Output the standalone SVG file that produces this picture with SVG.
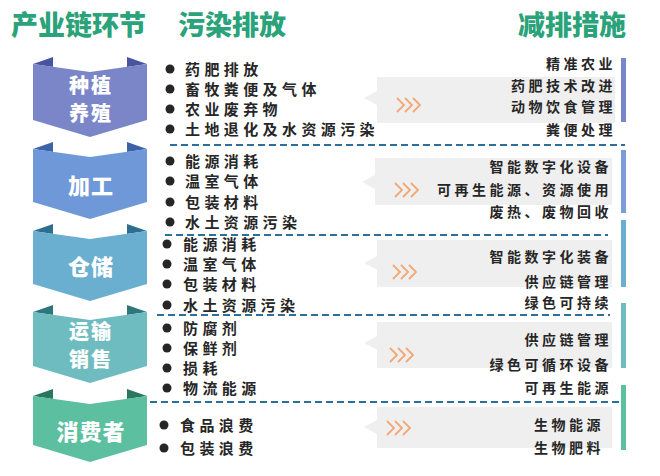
<svg xmlns="http://www.w3.org/2000/svg" width="660" height="476" viewBox="0 0 660 476">
<defs>
<style>
.hd{font-family:"Noto Sans CJK SC","Noto Sans",sans-serif;font-weight:900;font-size:27px;fill:#2aa27a}
.rb{font-family:"Noto Sans CJK SC","Noto Sans",sans-serif;font-weight:900;font-size:22px;fill:#ffffff;text-anchor:middle;letter-spacing:1px}
.rb2{font-family:"Noto Sans CJK SC","Noto Sans",sans-serif;font-weight:900;font-size:20px;fill:#ffffff;text-anchor:middle;letter-spacing:2px}
.bl{font-family:"Noto Sans CJK SC","Noto Sans",sans-serif;font-weight:700;font-size:15px;fill:#262626;letter-spacing:4.4px}
.rt{font-family:"Noto Sans CJK SC","Noto Sans",sans-serif;font-weight:700;font-size:14px;fill:#262626;letter-spacing:3.5px;text-anchor:end}
.dot{fill:#262626}
.call{fill:#efefef}
.chev{fill:none;stroke:#f3a776;stroke-width:1.8}
.dash{stroke:#2d6f9b;stroke-width:2;stroke-dasharray:7 4;fill:none}
</style>
<g id="chevs">
<path class="chev" d="M0,-7 L7,0 L0,7 M8,-7 L15,0 L8,7 M16,-7 L23,0 L16,7"/>
</g>
</defs>
<rect width="660" height="476" fill="#ffffff"/>

<g id="headers">
<text class="hd" x="11" y="35">产业链环节</text>
<text class="hd" x="178" y="35">污染排放</text>
<text class="hd" x="518" y="35">减排措施</text>
</g>

<g id="stage1">
<polygon points="33,64 53,57 53,67" fill="#4954a0"/>
<polygon points="147,64 127,57 127,67" fill="#4954a0"/>
<polygon points="33,64 90,72 147,64 147,120 90,137 33,120" fill="#7b86c9"/>
<text class="rb2" x="91" y="93">种植</text>
<text class="rb2" x="91" y="121">养殖</text>
</g>
<g id="stage2">
<polygon points="33,149 53,142 53,152" fill="#3c62a8"/>
<polygon points="147,149 127,142 127,152" fill="#3c62a8"/>
<polygon points="33,149 90,157 147,149 147,202 90,219 33,202" fill="#6f98d8"/>
<text class="rb" x="91" y="194">加工</text>
</g>
<g id="stage3">
<polygon points="33,231 53,224 53,234" fill="#2e6f8f"/>
<polygon points="147,231 127,224 127,234" fill="#2e6f8f"/>
<polygon points="33,231 90,239 147,231 147,284 90,301 33,284" fill="#6aaed0"/>
<text class="rb" x="91" y="275">仓储</text>
</g>
<g id="stage4">
<polygon points="33,312 53,305 53,315" fill="#2e767c"/>
<polygon points="147,312 127,305 127,315" fill="#2e767c"/>
<polygon points="33,312 90,320 147,312 147,366 90,383 33,366" fill="#6fbcc0"/>
<text class="rb2" x="91" y="339">运输</text>
<text class="rb2" x="91" y="367">销售</text>
</g>
<g id="stage5">
<polygon points="33,396 53,389 53,399" fill="#2a765e"/>
<polygon points="147,396 127,389 127,399" fill="#2a765e"/>
<polygon points="33,396 90,404 147,396 147,445 90,462 33,445" fill="#5cbfa0"/>
<text class="rb" x="91" y="440">消费者</text>
</g>

<g id="connectors">
<line class="dash" x1="170" y1="145" x2="625" y2="145"/>
<line class="dash" x1="165" y1="235" x2="608" y2="235"/>
<line class="dash" x1="157" y1="315" x2="610" y2="315"/>
<line class="dash" x1="150" y1="402" x2="624" y2="402"/>
</g>

<g id="emissions1">
<circle class="dot" cx="170" cy="69" r="4.5"/><text class="bl" x="185" y="75">药肥排放</text>
<circle class="dot" cx="170" cy="89" r="4.5"/><text class="bl" x="185" y="95">畜牧粪便及气体</text>
<circle class="dot" cx="170" cy="109" r="4.5"/><text class="bl" x="185" y="115">农业废弃物</text>
<circle class="dot" cx="170" cy="129" r="4.5"/><text class="bl" x="185" y="135">土地退化及水资源污染</text>
</g>
<g id="emissions2">
<circle class="dot" cx="170" cy="161" r="4.5"/><text class="bl" x="185" y="167">能源消耗</text>
<circle class="dot" cx="170" cy="181" r="4.5"/><text class="bl" x="185" y="187">温室气体</text>
<circle class="dot" cx="170" cy="202" r="4.5"/><text class="bl" x="185" y="208">包装材料</text>
<circle class="dot" cx="170" cy="222" r="4.5"/><text class="bl" x="185" y="228">水土资源污染</text>
</g>
<g id="emissions3">
<circle class="dot" cx="167" cy="244" r="4.5"/><text class="bl" x="183" y="250">能源消耗</text>
<circle class="dot" cx="167" cy="264" r="4.5"/><text class="bl" x="183" y="270">温室气体</text>
<circle class="dot" cx="167" cy="284" r="4.5"/><text class="bl" x="183" y="290">包装材料</text>
<circle class="dot" cx="167" cy="305" r="4.5"/><text class="bl" x="183" y="311">水土资源污染</text>
</g>
<g id="emissions4">
<circle class="dot" cx="167" cy="328" r="4.5"/><text class="bl" x="183" y="334">防腐剂</text>
<circle class="dot" cx="167" cy="348" r="4.5"/><text class="bl" x="183" y="354">保鲜剂</text>
<circle class="dot" cx="167" cy="368" r="4.5"/><text class="bl" x="183" y="374">损耗</text>
<circle class="dot" cx="167" cy="388" r="4.5"/><text class="bl" x="183" y="394">物流能源</text>
</g>
<g id="emissions5">
<circle class="dot" cx="164" cy="425" r="4.5"/><text class="bl" x="180" y="431">食品浪费</text>
<circle class="dot" cx="164" cy="448" r="4.5"/><text class="bl" x="180" y="454">包装浪费</text>
</g>

<g id="measures1">
<polygon class="call" points="377,77 615,77 615,123 377,123 377,105 364,98 377,91"/>
<use href="#chevs" x="397" y="105"/>
<rect x="621" y="58" width="5" height="64" fill="#7b86c9"/>
<text class="rt" x="616" y="69">精准农业</text>
<text class="rt" x="616" y="91">药肥技术改进</text>
<text class="rt" x="616" y="112">动物饮食管理</text>
<text class="rt" x="616" y="135">粪便处理</text>
</g>
<g id="measures2">
<polygon class="call" points="375,158 612,158 612,205 375,205 375,189 362,182 375,175"/>
<use href="#chevs" x="395" y="190"/>
<rect x="621" y="150" width="5" height="63" fill="#7b9ed8"/>
<text class="rt" x="612" y="172">智能数字化设备</text>
<text class="rt" x="612" y="195">可再生能源、资源使用</text>
<text class="rt" x="612" y="217">废热、废物回收</text>
</g>
<g id="measures3">
<polygon class="call" points="377,240 612,240 612,287 377,287 377,270 364,263 377,256"/>
<use href="#chevs" x="393" y="272"/>
<rect x="621" y="220" width="5" height="67" fill="#6aaed0"/>
<text class="rt" x="612" y="262">智能数字化装备</text>
<text class="rt" x="612" y="287">供应链管理</text>
<text class="rt" x="612" y="308">绿色可持续</text>
</g>
<g id="measures4">
<polygon class="call" points="377,322 612,322 612,368 377,368 377,350 364,343 377,336"/>
<use href="#chevs" x="390" y="355"/>
<rect x="621" y="303" width="5" height="65" fill="#6fbcc0"/>
<text class="rt" x="612" y="345">供应链管理</text>
<text class="rt" x="612" y="370">绿色可循环设备</text>
<text class="rt" x="612" y="393">可再生能源</text>
</g>
<g id="measures5">
<polygon class="call" points="377,407 612,407 612,448 377,448 377,434 364,427 377,420"/>
<use href="#chevs" x="387" y="428"/>
<rect x="621" y="385" width="5" height="65" fill="#5cbfa0"/>
<text class="rt" x="604" y="430">生物能源</text>
<text class="rt" x="604" y="453">生物肥料</text>
</g>
</svg>
